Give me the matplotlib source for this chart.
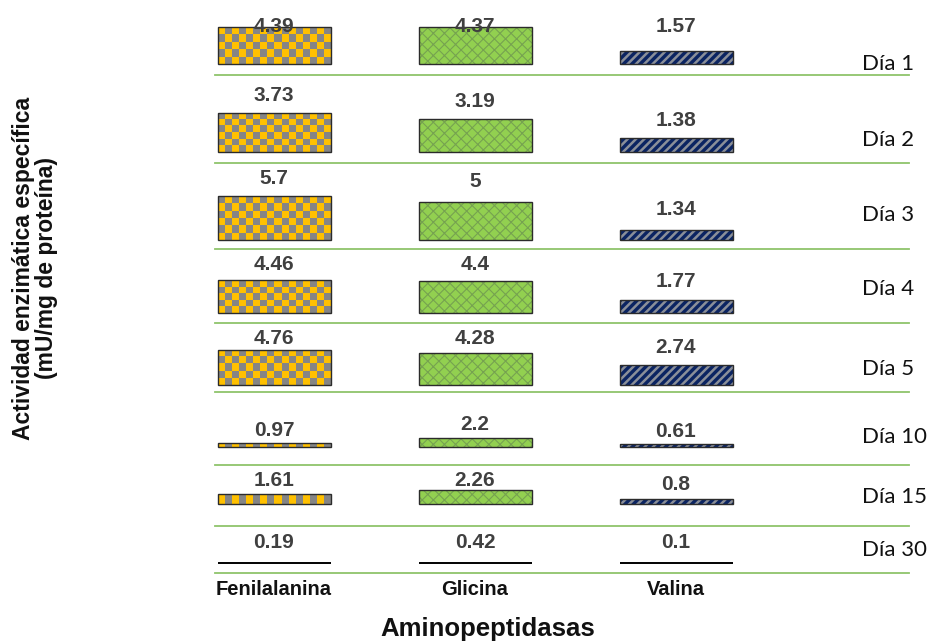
import numpy as np
import matplotlib
matplotlib.use('Agg')
import matplotlib.pyplot as plt
from matplotlib.colors import ListedColormap

# ---------------- data ----------------
days = ['Día 1', 'Día 2', 'Día 3', 'Día 4', 'Día 5', 'Día 10', 'Día 15', 'Día 30']
enzymes = ['Fenilalanina', 'Glicina', 'Valina']
fenilalanina = [4.39, 3.73, 5.7, 4.46, 4.76, 0.97, 1.61, 0.19]
glicina = [4.37, 3.19, 5, 4.4, 4.28, 2.2, 2.26, 0.42]
valina = [1.57, 1.38, 1.34, 1.77, 2.74, 0.61, 0.8, 0.1]
ylabel = 'Actividad enzimática específica\n(mU/mg de proteína)'
xlabel = 'Aminopeptidasas'

# ---------------- layout (pixels of a 933x642 figure) ----------------
W, H = 933, 642
row_top = [10, 75, 163, 249, 323, 392, 465, 526]
baseline = [64, 152, 240, 313, 385, 447, 504, 563]
row_sep = [75, 163, 249, 323, 392, 465, 526, 573]
px_per_unit = [8.4, 10.5, 7.7, 7.3, 7.4, 4.1, 6.0, 0.8]
label_off = [32, 17, 20, 19, 17, 13, 15, 20]
label_clamp = 16
day_label_y = [64, 140, 215, 289, 369, 437, 497, 550]
x_left, x_right = 215, 909
first_center, col_step = 274, 201
bar_w_px = 113
day_label_x = 862

plt.rcParams['font.family'] = ['Liberation Sans', 'DejaVu Sans']
fig = plt.figure(figsize=(W / 100, H / 100), dpi=100)

xlim = ((x_left - first_center) / col_step, (x_right - first_center) / col_step)
bw = bar_w_px / col_step
xpos = np.arange(len(enzymes))

sep_color = '#8FC46B'
edge_color = '#2b2b2b'
label_color = '#404040'


def checker(ax, bar, scale, cell=7):
    x0, w, h = bar.get_x(), bar.get_width(), bar.get_height()
    wpx, hpx = w * col_step, h * scale
    if hpx < 1.5:
        return
    nx = max(1, int(round(wpx / cell)))
    ny = max(1, int(round(hpx / cell)))
    arr = np.add.outer(np.arange(ny), np.arange(nx)) % 2
    im = ax.imshow(arr, cmap=ListedColormap(['#FFC000', '#858585']), vmin=0, vmax=1,
                   extent=(x0, x0 + w, 0, h), origin='lower', interpolation='nearest',
                   aspect='auto', zorder=2)
    im.set_clip_path(bar)


for i, day in enumerate(days):
    s = px_per_unit[i]
    bottom_px = row_sep[i]
    top_px = row_top[i]
    ax = fig.add_axes([x_left / W, (H - bottom_px) / H, (x_right - x_left) / W,
                       (bottom_px - top_px) / H])
    ytop = (baseline[i] - top_px) / s
    ybot = -(bottom_px - baseline[i]) / s
    vals = [fenilalanina[i], glicina[i], valina[i]]
    last = i == len(days) - 1

    # Fenilalanina: checkerboard
    b = ax.bar(xpos[0], vals[0], bw, color='#FFC000', linewidth=0, zorder=1)
    checker(ax, b[0], s)
    # Glicina: green weave
    b = ax.bar(xpos[1], vals[1], bw, color='#92D050', hatch='xxx', edgecolor='#76a250',
               linewidth=0, zorder=2)
    if hasattr(b[0], 'set_hatch_linewidth'):
        b[0].set_hatch_linewidth(0.8)
    # Valina: navy with grey stripes
    b = ax.bar(xpos[2], vals[2], bw, color='#0B2462', hatch='////', edgecolor='#8a8f99',
               linewidth=0, zorder=2)
    if hasattr(b[0], 'set_hatch_linewidth'):
        b[0].set_hatch_linewidth(1.8)
    # outlines
    ax.bar(xpos, vals, bw, fill=False, edgecolor='#000000' if last else edge_color,
           linewidth=1.4 if last else 1.0, zorder=4)

    for x, v in zip(xpos, vals):
        y = min(v + label_off[i] / s, ytop - label_clamp / s)
        ax.text(x, y, f'{v:g}', ha='center', va='center', fontsize=15,
                fontweight='bold', color=label_color, zorder=5)

    ax.set_xlim(*xlim)
    ax.set_ylim(ybot, ytop)
    for sp in ['top', 'left', 'right']:
        ax.spines[sp].set_visible(False)
    ax.spines['bottom'].set_color(sep_color)
    ax.spines['bottom'].set_linewidth(1.3)
    ax.set_yticks([])
    ax.patch.set_alpha(0)
    if last:
        ax.set_xticks(xpos)
        ax.set_xticklabels(enzymes, fontsize=14.5, fontweight='bold', color='#111111')
        ax.tick_params(axis='x', length=0, pad=5)
    else:
        ax.set_xticks([])

    fig.text(day_label_x / W, (H - day_label_y[i]) / H, day, ha='left', va='center',
             fontsize=16, family=['Lato', 'DejaVu Sans'], color='#111111')

fig.text(35 / W, (H - 268) / H, ylabel, rotation=90, ha='center', va='center',
         fontsize=16.5, fontweight='bold', color='#111111', linespacing=0.95,
         multialignment='center')
fig.text(488 / W, (H - 629) / H, xlabel, ha='center', va='center', fontsize=18.5,
         fontweight='bold', color='#111111')

fig.savefig('out.png', dpi=100)
